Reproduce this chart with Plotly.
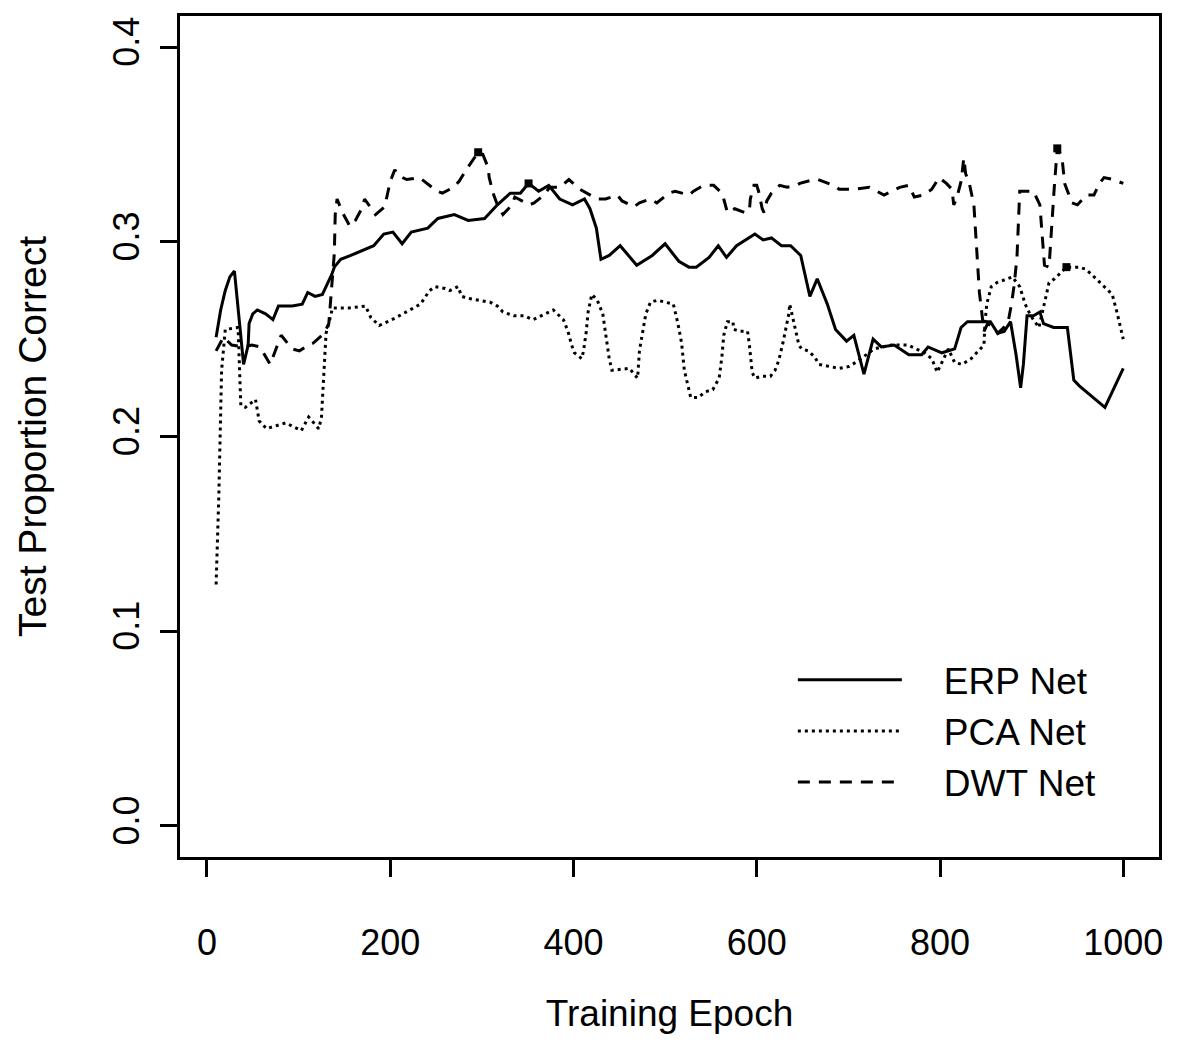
import plotly.graph_objects as go

# ---- data ----
erp_epoch = [10, 15, 20, 25, 30, 35, 40, 45, 46, 50, 55, 64, 72, 78, 93, 104, 110, 118, 126, 132,
             136, 139, 146, 157, 171, 182, 193, 203, 213, 223, 241, 252, 270, 285, 303, 317, 331, 342, 351, 362,
             373, 385, 399, 412, 418, 425, 430, 439, 451, 469, 486, 500, 515, 526, 534, 548, 558, 567, 578, 598,
             607, 616, 627, 637, 648, 654, 658, 666, 677, 686, 698, 706, 712, 717, 722, 727, 736, 750, 766, 780,
             787, 802, 816, 823, 830, 841, 855, 863, 870, 877, 883, 888, 891, 895, 902, 909, 913, 924, 939, 946,
             952, 980, 988, 1000]
erp_value = [0.251, 0.265, 0.275, 0.282, 0.285, 0.261, 0.237, 0.247, 0.258, 0.263, 0.265, 0.263, 0.260, 0.267, 0.267, 0.268, 0.274, 0.272, 0.273, 0.279,
             0.283, 0.287, 0.291, 0.293, 0.296, 0.298, 0.304, 0.305, 0.299, 0.305, 0.307, 0.312, 0.314, 0.311, 0.312, 0.319, 0.325, 0.325, 0.330, 0.326,
             0.329, 0.322, 0.319, 0.322, 0.317, 0.307, 0.291, 0.293, 0.298, 0.288, 0.293, 0.299, 0.290, 0.287, 0.287, 0.292, 0.298, 0.292, 0.298, 0.304,
             0.301, 0.302, 0.298, 0.298, 0.293, 0.280, 0.272, 0.281, 0.268, 0.255, 0.249, 0.252, 0.241, 0.232, 0.241, 0.250, 0.246, 0.247, 0.242, 0.242,
             0.246, 0.243, 0.245, 0.256, 0.259, 0.259, 0.259, 0.253, 0.254, 0.259, 0.242, 0.225, 0.237, 0.262, 0.262, 0.264, 0.258, 0.256, 0.256, 0.229,
             0.226, 0.215, 0.223, 0.235]

pca_epoch = [10, 13, 16, 20, 34, 37, 42, 53, 57, 65, 86, 103, 111, 122, 125, 128, 130, 133, 137, 155,
             173, 179, 188, 206, 225, 233, 243, 249, 260, 265, 274, 278, 284, 298, 309, 317, 323, 335, 346, 356,
             370, 378, 389, 394, 398, 401, 409, 411, 414, 416, 420, 426, 432, 436, 439, 442, 461, 470, 472, 476,
             479, 484, 492, 500, 509, 514, 518, 521, 525, 528, 536, 544, 552, 559, 562, 564, 568, 574, 575, 581,
             590, 592, 595, 598, 606, 615, 620, 624, 629, 632, 635, 636, 640, 643, 646, 649, 656, 663, 668, 679,
             690, 701, 711, 728, 747, 765, 783, 791, 797, 802, 809, 816, 824, 834, 842, 848, 849, 851, 856, 862,
             879, 887, 893, 899, 908, 914, 919, 925, 938, 951, 959, 966, 977, 988, 993, 997, 1000]
pca_value = [0.124, 0.170, 0.234, 0.255, 0.256, 0.216, 0.215, 0.219, 0.208, 0.204, 0.207, 0.203, 0.210, 0.204, 0.210, 0.235, 0.253, 0.258, 0.266, 0.266,
             0.267, 0.261, 0.257, 0.261, 0.266, 0.268, 0.275, 0.277, 0.276, 0.275, 0.277, 0.272, 0.271, 0.270, 0.269, 0.267, 0.264, 0.262, 0.262, 0.260,
             0.263, 0.265, 0.260, 0.254, 0.247, 0.243, 0.240, 0.244, 0.254, 0.264, 0.273, 0.270, 0.263, 0.251, 0.240, 0.234, 0.235, 0.230, 0.244, 0.255,
             0.263, 0.269, 0.270, 0.269, 0.268, 0.258, 0.248, 0.234, 0.226, 0.220, 0.220, 0.223, 0.224, 0.230, 0.241, 0.252, 0.259, 0.259, 0.255, 0.254,
             0.254, 0.247, 0.233, 0.230, 0.231, 0.231, 0.234, 0.239, 0.249, 0.256, 0.263, 0.268, 0.260, 0.254, 0.247, 0.245, 0.244, 0.241, 0.237, 0.236,
             0.235, 0.236, 0.239, 0.245, 0.247, 0.247, 0.243, 0.240, 0.233, 0.238, 0.245, 0.238, 0.237, 0.240, 0.244, 0.247, 0.258, 0.268, 0.277, 0.279,
             0.282, 0.277, 0.268, 0.262, 0.256, 0.268, 0.279, 0.281, 0.287, 0.287, 0.286, 0.283, 0.278, 0.273, 0.264, 0.255, 0.250]

dwt_epoch = [10, 18, 27, 40, 49, 58, 69, 73, 81, 93, 101, 111, 116, 128, 133, 136, 139, 140, 142, 148,
             156, 162, 170, 172, 184, 194, 196, 200, 205, 209, 218, 232, 251, 257, 269, 275, 283, 286, 296, 301,
             307, 308, 313, 317, 323, 333, 336, 352, 357, 368, 374, 385, 395, 407, 415, 426, 435, 448, 453, 466,
             472, 484, 491, 504, 511, 526, 531, 542, 553, 562, 564, 568, 576, 587, 592, 593, 597, 600, 602, 606,
             608, 611, 616, 625, 633, 643, 647, 662, 667, 684, 690, 706, 723, 739, 756, 766, 772, 782, 791, 799,
             807, 813, 815, 818, 823, 826, 828, 832, 837, 843, 848, 852, 859, 863, 874, 878, 881, 884, 887, 902,
             909, 914, 919, 921, 925, 928, 933, 936, 944, 950, 960, 968, 974, 979, 989, 1000]
dwt_value = [0.244, 0.251, 0.247, 0.246, 0.247, 0.246, 0.237, 0.242, 0.252, 0.245, 0.244, 0.247, 0.248, 0.253, 0.258, 0.276, 0.294, 0.314, 0.322, 0.315,
             0.308, 0.311, 0.318, 0.322, 0.314, 0.318, 0.323, 0.331, 0.337, 0.334, 0.332, 0.333, 0.326, 0.325, 0.328, 0.331, 0.337, 0.339, 0.346, 0.345,
             0.338, 0.333, 0.324, 0.319, 0.314, 0.319, 0.323, 0.319, 0.320, 0.324, 0.328, 0.328, 0.332, 0.327, 0.325, 0.322, 0.322, 0.324, 0.321, 0.318,
             0.320, 0.322, 0.320, 0.325, 0.326, 0.324, 0.326, 0.329, 0.329, 0.325, 0.322, 0.315, 0.317, 0.315, 0.316, 0.322, 0.329, 0.329, 0.326, 0.317,
             0.315, 0.321, 0.325, 0.329, 0.328, 0.329, 0.330, 0.332, 0.332, 0.329, 0.327, 0.327, 0.328, 0.324, 0.328, 0.329, 0.323, 0.324, 0.327, 0.333,
             0.330, 0.327, 0.319, 0.322, 0.331, 0.343, 0.335, 0.330, 0.319, 0.274, 0.254, 0.258, 0.256, 0.253, 0.258, 0.268, 0.278, 0.292, 0.326, 0.326,
             0.319, 0.288, 0.287, 0.302, 0.330, 0.348, 0.344, 0.330, 0.320, 0.319, 0.324, 0.324, 0.330, 0.333, 0.332, 0.330]

# small filled squares drawn on the curves
mark_epoch = [296, 351, 928, 938]
mark_value = [0.346, 0.330, 0.348, 0.287]

series_names = ["ERP Net", "PCA Net", "DWT Net"]
x_ticks = [0, 200, 400, 600, 800, 1000]
y_ticks = [0.0, 0.1, 0.2, 0.3, 0.4]
y_tick_text = ["0.0", "0.1", "0.2", "0.3", "0.4"]

FONT = "Liberation Sans, Arial, Helvetica, sans-serif"
GAP = "\u2003"  # spacing between legend line and label, as in the original

fig = go.Figure()
fig.add_trace(go.Scatter(x=erp_epoch, y=erp_value, mode="lines", name=GAP + series_names[0],
                         line=dict(color="black", width=3)))
fig.add_trace(go.Scatter(x=pca_epoch, y=pca_value, mode="lines", name=GAP + series_names[1],
                         line=dict(color="black", width=3, dash="3px,4px")))
fig.add_trace(go.Scatter(x=dwt_epoch, y=dwt_value, mode="lines", name=GAP + series_names[2],
                         line=dict(color="black", width=3, dash="12px,9px")))
fig.add_trace(go.Scatter(x=mark_epoch, y=mark_value, mode="markers", showlegend=False,
                         marker=dict(symbol="square", size=8, color="black")))

fig.update_layout(
    width=1161, height=1026,
    margin=dict(l=172, r=10, t=8, b=177, autoexpand=False),
    paper_bgcolor="white", plot_bgcolor="white",
    font=dict(family=FONT, color="black", size=36),
    showlegend=True,
    legend=dict(x=0.626, y=0.247, xanchor="left", yanchor="top",
                bgcolor="rgba(0,0,0,0)", borderwidth=0,
                font=dict(size=37, family=FONT, color="black"),
                itemwidth=104, tracegroupgap=0),
    xaxis=dict(range=[-29.4, 1039], tickvals=x_ticks, ticks="outside", ticklen=17, tickwidth=2.5,
               tickcolor="black", showline=True, linecolor="black", linewidth=2.7, mirror=True,
               showgrid=False, zeroline=False, ticklabelstandoff=35,
               tickfont=dict(size=36, family=FONT),
               title=dict(text="Training Epoch", font=dict(size=37, family=FONT), standoff=40)),
    yaxis=dict(range=[-0.016, 0.416], tickvals=y_ticks, ticktext=y_tick_text, tickangle=-90,
               ticks="outside", ticklen=17, tickwidth=2.5, tickcolor="black",
               showline=True, linecolor="black", linewidth=2.7, mirror=True,
               showgrid=False, zeroline=False, ticklabelstandoff=7,
               tickfont=dict(size=36, family=FONT),
               title=dict(text="Test Proportion Correct", font=dict(size=39, family=FONT), standoff=48)),
)

fig.write_html("out.html")
